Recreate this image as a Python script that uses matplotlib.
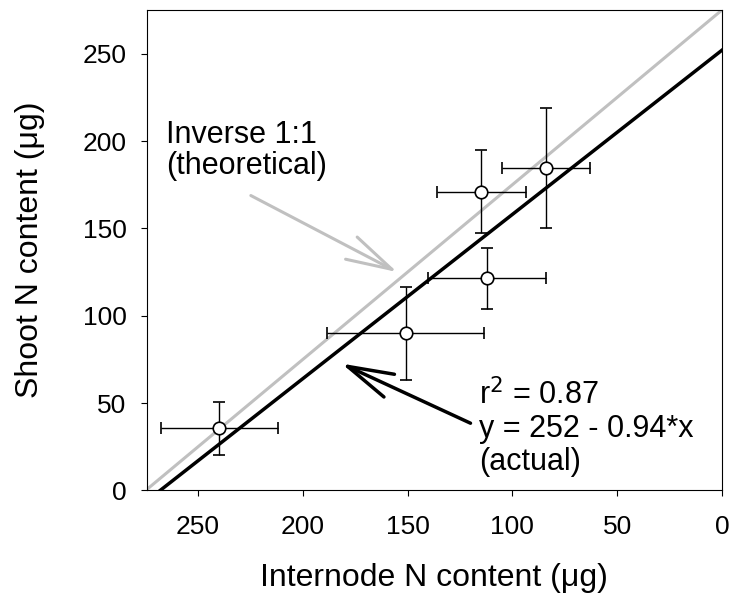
import numpy as np
import matplotlib
matplotlib.use("Agg")
import matplotlib.pyplot as plt

plt.rcParams['font.family'] = ['Liberation Sans', 'DejaVu Sans']

# internode N (x) vs shoot N (y), means with error bars
internode_n = [239.8, 151.0, 112.0, 114.8, 84.0]
shoot_n = [35.5, 89.9, 121.4, 171.0, 184.4]
internode_err = [27.8, 37.3, 28.2, 21.3, 20.8]
shoot_err = [15.2, 26.4, 17.4, 23.8, 34.3]

theory_intercept = 275  # inverse 1:1 line, y = 275 - x
fit_intercept = 252     # fitted, y = 252 - 0.94*x
fit_slope = -0.94

fig = plt.figure(figsize=(7.33, 6.08), dpi=100)
ax = fig.add_axes([0.2001, 0.1933, 0.7849, 0.7903])

xs = np.array([0, 300])
ax.plot(xs, theory_intercept - xs, color='#c0c0c0', lw=2.2, zorder=2)
ax.plot(xs, fit_intercept + fit_slope * xs, color='black', lw=2.5, zorder=3)

ax.errorbar(internode_n, shoot_n, xerr=internode_err, yerr=shoot_err,
            fmt='o', mfc='white', mec='black', mew=1.2, ms=9,
            ecolor='black', elinewidth=1.0, capsize=4.2, capthick=1.0, zorder=4)

ax.set_xlim(274.5, 0)
ax.set_ylim(0, 275)
ax.set_xticks([250, 200, 150, 100, 50, 0])
ax.set_yticks([0, 50, 100, 150, 200, 250])
ax.tick_params(direction='out', length=4.5, width=0.8, labelsize=19)
ax.tick_params(axis='x', pad=13)
ax.tick_params(axis='y', pad=10)
for s in ax.spines.values():
    s.set_linewidth(0.8)

ax.set_xlabel('Internode N content (\u03bcg)', fontsize=23)
ax.xaxis.set_label_coords(0.5, -0.182)
ax.xaxis.label.set_va('center')
ax.set_ylabel('Shoot N content (\u03bcg)', fontsize=23)
ax.yaxis.set_label_coords(-0.177, 0.5)

head = '->,head_length=1.65,head_width=0.45'

# va='baseline' on multi-line text pins the last line's baseline
ax.text(265.2, 181.3, 'Inverse 1:1\n(theoretical)', fontsize=22,
        va='baseline', ha='left', linespacing=1.05)
ax.annotate('', xy=(155.0, 125.0), xytext=(224.8, 168.8),
            arrowprops=dict(arrowstyle=head, color='#c0c0c0', lw=2.2,
                            mutation_scale=20, shrinkA=0, shrinkB=0))

ax.text(116.0, 11.7, 'r$^2$ = 0.87\ny = 252 - 0.94*x\n(actual)', fontsize=22,
        va='baseline', ha='left', linespacing=1.13)
ax.annotate('', xy=(181.5, 72.6), xytext=(120.0, 38.5),
            arrowprops=dict(arrowstyle=head, color='black', lw=2.5,
                            mutation_scale=20, shrinkA=0, shrinkB=0))

fig.savefig('out.png', dpi=100)
